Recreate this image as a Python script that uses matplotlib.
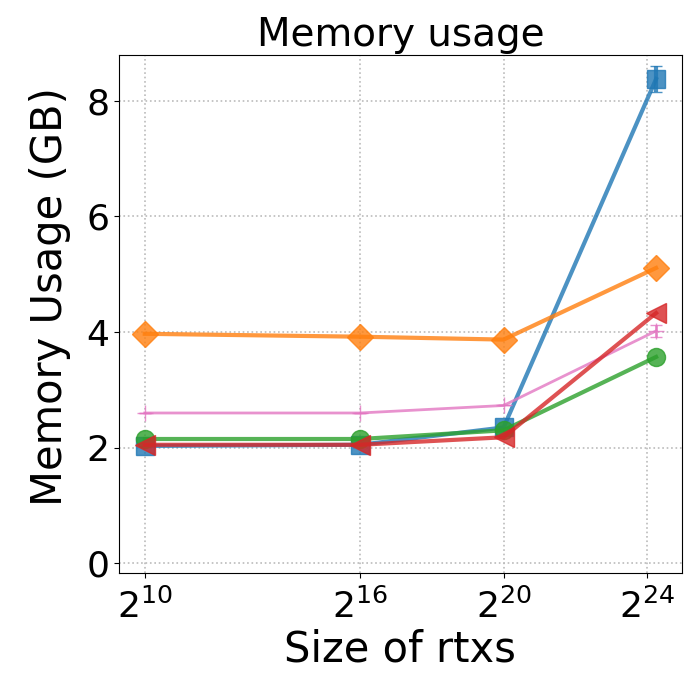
import numpy as np
import matplotlib
matplotlib.use("Agg")
import matplotlib.pyplot as plt

# size of rtxs (last point sits a bit right of 2^24)
sizes = [2**10, 2**16, 2**20, 2**24.25]

# memory usage in GB, one list per series
mem_blue = [2.03, 2.05, 2.35, 8.38]
mem_orange = [3.97, 3.92, 3.87, 5.11]
mem_green = [2.15, 2.15, 2.30, 3.57]
mem_red = [2.05, 2.05, 2.18, 4.33]
mem_pink = [2.60, 2.60, 2.73, 4.02]

err_blue = [0.0, 0.0, 0.0, 0.22]
err_pink = [0.0, 0.0, 0.0, 0.10]

xtick_vals = [2**10, 2**16, 2**20, 2**24]
xtick_labels = [r'$2^{10}$', r'$2^{16}$', r'$2^{20}$', r'$2^{24}$']

fig = plt.figure(figsize=(6.97, 6.75), dpi=100)
ax = fig.add_axes([0.171, 0.151, 0.807, 0.768])

ax.errorbar(sizes, mem_blue, yerr=err_blue, color='tab:blue', marker='s',
            markersize=13, linewidth=3, alpha=0.8, capsize=4)
ax.errorbar(sizes, mem_orange, color='tab:orange', marker='D',
            markersize=13, linewidth=3, alpha=0.8)
ax.errorbar(sizes, mem_pink, yerr=err_pink, color='tab:pink', marker='+',
            markersize=12, linewidth=2, alpha=0.8, capsize=4)
ax.errorbar(sizes, mem_green, color='tab:green', marker='o',
            markersize=13, linewidth=3, alpha=0.8)
ax.errorbar(sizes, mem_red, color='tab:red', marker='<',
            markersize=14, linewidth=3, alpha=0.8)

ax.set_xscale('log', base=2)
ax.set_xticks(xtick_vals)
ax.set_xticklabels(xtick_labels)
ax.minorticks_off()
ax.set_ylim(-0.17, 8.8)
ax.set_yticks([0, 2, 4, 6, 8])

ax.grid(True, linestyle=':', color='#bbbbbb', linewidth=1.2)
ax.tick_params(labelsize=26)
ax.tick_params(axis='x', pad=8)
ax.set_xlabel('Size of rtxs', fontsize=30, labelpad=2)
ax.set_ylabel('Memory Usage (GB)', fontsize=30)
ax.yaxis.set_label_coords(-0.085, 0.533)
ax.set_title('Memory usage', fontsize=28)

fig.savefig('out.png', dpi=100)
